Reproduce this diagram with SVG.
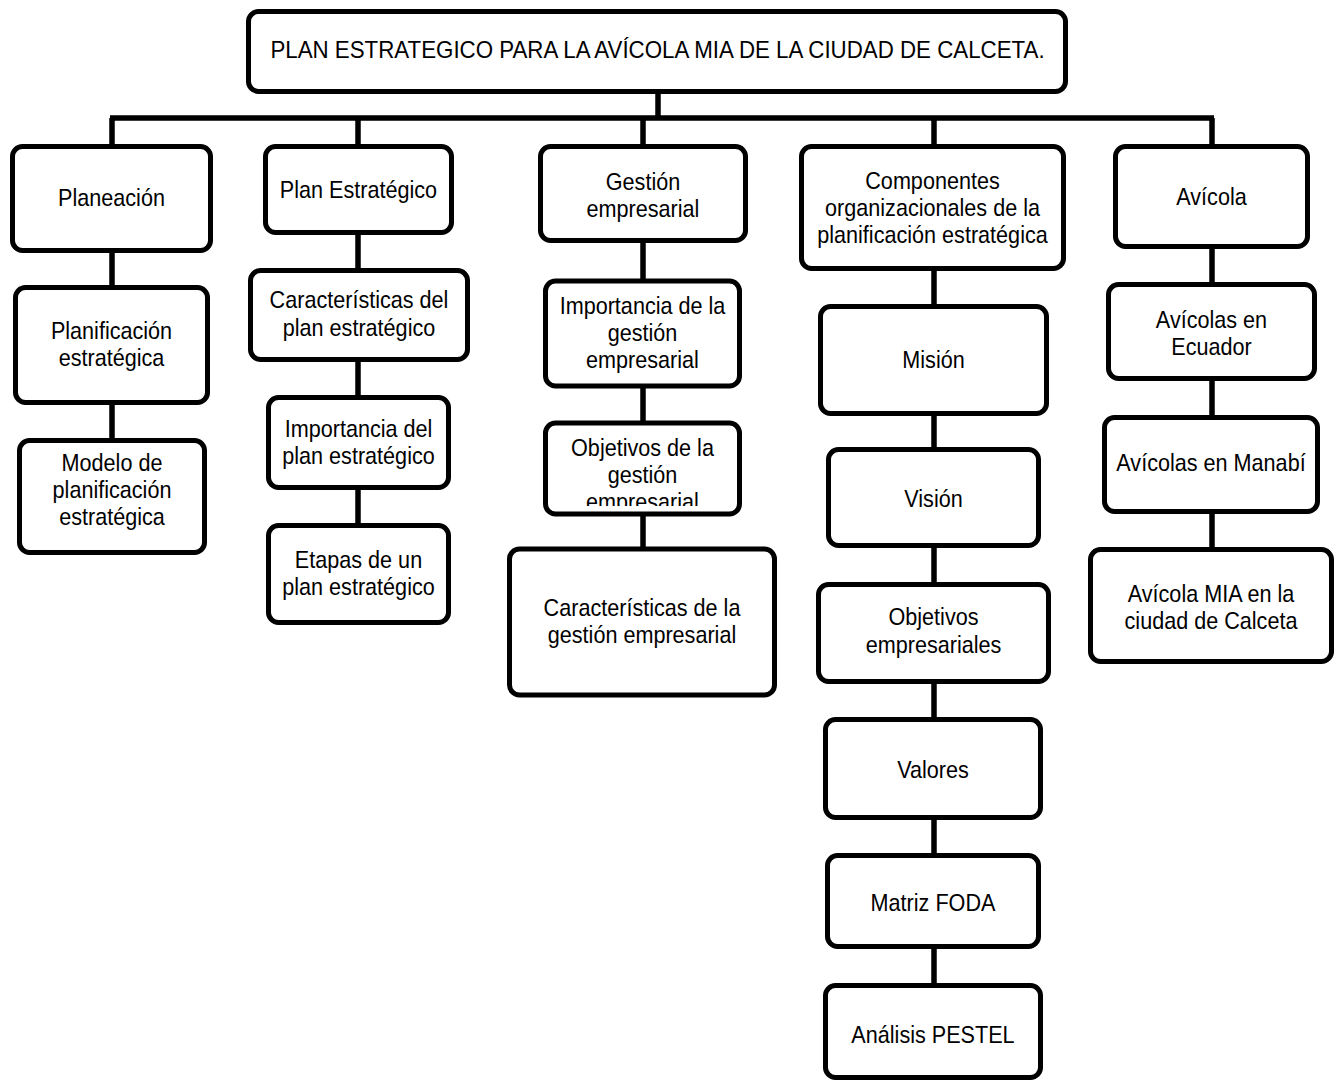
<svg xmlns="http://www.w3.org/2000/svg" width="1337" height="1082" viewBox="0 0 1337 1082">
<defs>
<style>
.box{fill:#fff;stroke:#000;stroke-width:5}
.ln{fill:none;stroke:#000;stroke-width:5.5}
text{font-family:"Liberation Sans",Arial,sans-serif;font-size:24px;fill:#000;text-anchor:middle}
</style>
<clipPath id="clipObj"><rect x="546" y="425" width="194" height="81"/></clipPath>
</defs>
<rect width="1337" height="1082" fill="#fff"/>
<g id="connectors">
<path class="ln" d="M658 91V118M110 118H1214M112 118V147M358 118V147M643 118V147M934 118V147M1212 118V147"/>
<path class="ln" d="M112 250V288M112 402V441"/>
<path class="ln" d="M358 232V271M358 359V398M358 487V526"/>
<path class="ln" d="M643 240V281M643 386V423M643 514V549"/>
<path class="ln" d="M934 268V307M934 413V450M934 545V585M934 681V720M934 817V856M934 946V986"/>
<path class="ln" d="M1212 246V285M1212 378V418M1212 511V550"/>
</g>
<g id="root"><rect class="box" x="248.5" y="11.5" width="817" height="80" rx="10"/><text transform="translate(657.5 0) scale(0.93 1)" x="0" y="58">PLAN ESTRATEGICO PARA LA AVÍCOLA MIA DE LA CIUDAD DE CALCETA.</text></g>

<g id="planeacion"><rect class="box" x="12.5" y="146.5" width="198" height="104" rx="10"/><text transform="translate(111.5 0) scale(0.9 1)" x="0" y="206">Planeación</text></g>
<g id="planificacion"><rect class="box" x="15.5" y="287.5" width="192" height="115" rx="10"/><text transform="translate(111.5 0) scale(0.9 1)"><tspan x="0" y="339">Planificación</tspan><tspan x="0" y="366">estratégica</tspan></text></g>
<g id="modelo"><rect class="box" x="19.5" y="440.5" width="185" height="112" rx="10"/><text transform="translate(112 0) scale(0.9 1)"><tspan x="0" y="471">Modelo de</tspan><tspan x="0" y="498">planificación</tspan><tspan x="0" y="525">estratégica</tspan></text></g>

<g id="plan-estrategico"><rect class="box" x="265.5" y="146.5" width="186" height="86" rx="10"/><text transform="translate(358.5 0) scale(0.9 1)" x="0" y="198">Plan Estratégico</text></g>
<g id="caracteristicas-plan"><rect class="box" x="250.5" y="270.5" width="217" height="89" rx="10"/><text transform="translate(359 0) scale(0.9 1)"><tspan x="0" y="308">Características del</tspan><tspan x="0" y="336">plan estratégico</tspan></text></g>
<g id="importancia-plan"><rect class="box" x="268.5" y="397.5" width="180" height="90" rx="10"/><text transform="translate(358.5 0) scale(0.9 1)"><tspan x="0" y="437">Importancia del</tspan><tspan x="0" y="464">plan estratégico</tspan></text></g>
<g id="etapas-plan"><rect class="box" x="268.5" y="525.5" width="180" height="97" rx="10"/><text transform="translate(358.5 0) scale(0.9 1)"><tspan x="0" y="568">Etapas de un</tspan><tspan x="0" y="595">plan estratégico</tspan></text></g>

<g id="gestion"><rect class="box" x="540.5" y="146.5" width="205" height="94" rx="10"/><text transform="translate(643 0) scale(0.9 1)"><tspan x="0" y="190">Gestión</tspan><tspan x="0" y="217">empresarial</tspan></text></g>
<g id="importancia-gestion"><rect class="box" x="545.5" y="281" width="194" height="105" rx="10"/><text transform="translate(642.5 0) scale(0.9 1)"><tspan x="0" y="314">Importancia de la</tspan><tspan x="0" y="341">gestión</tspan><tspan x="0" y="368">empresarial</tspan></text></g>
<g id="objetivos-gestion"><rect class="box" x="545.5" y="423" width="194" height="91" rx="10"/><g clip-path="url(#clipObj)"><text transform="translate(642.5 0) scale(0.9 1)"><tspan x="0" y="456">Objetivos de la</tspan><tspan x="0" y="483">gestión</tspan><tspan x="0" y="510">empresarial</tspan></text></g></g>
<g id="caracteristicas-gestion"><rect class="box" x="509.5" y="549" width="265" height="146" rx="10"/><text transform="translate(642 0) scale(0.9 1)"><tspan x="0" y="616">Características de la</tspan><tspan x="0" y="643">gestión empresarial</tspan></text></g>

<g id="componentes"><rect class="box" x="801.5" y="146.5" width="262" height="122" rx="10"/><text transform="translate(932.5 0) scale(0.9 1)"><tspan x="0" y="189">Componentes</tspan><tspan x="0" y="216">organizacionales de la</tspan><tspan x="0" y="243">planificación estratégica</tspan></text></g>
<g id="mision"><rect class="box" x="820.5" y="306.5" width="226" height="107" rx="10"/><text transform="translate(933.5 0) scale(0.9 1)" x="0" y="368">Misión</text></g>
<g id="vision"><rect class="box" x="828.5" y="449.5" width="210" height="96" rx="10"/><text transform="translate(933.5 0) scale(0.9 1)" x="0" y="507">Visión</text></g>
<g id="objetivos-empresariales"><rect class="box" x="818.5" y="584.5" width="230" height="97" rx="10"/><text transform="translate(933.5 0) scale(0.9 1)"><tspan x="0" y="625">Objetivos</tspan><tspan x="0" y="653">empresariales</tspan></text></g>
<g id="valores"><rect class="box" x="825.5" y="719.5" width="215" height="98" rx="10"/><text transform="translate(933 0) scale(0.9 1)" x="0" y="778">Valores</text></g>
<g id="foda"><rect class="box" x="827.5" y="855.5" width="211" height="91" rx="10"/><text transform="translate(933 0) scale(0.9 1)" x="0" y="911">Matriz FODA</text></g>
<g id="pestel"><rect class="box" x="825.5" y="985.5" width="215" height="92" rx="10"/><text transform="translate(933 0) scale(0.9 1)" x="0" y="1043">Análisis PESTEL</text></g>

<g id="avicola"><rect class="box" x="1115.5" y="146.5" width="192" height="100" rx="10"/><text transform="translate(1211.5 0) scale(0.9 1)" x="0" y="205">Avícola</text></g>
<g id="avicolas-ecuador"><rect class="box" x="1108.5" y="284.5" width="206" height="94" rx="10"/><text transform="translate(1211.5 0) scale(0.9 1)"><tspan x="0" y="328">Avícolas en</tspan><tspan x="0" y="355">Ecuador</tspan></text></g>
<g id="avicolas-manabi"><rect class="box" x="1104.5" y="417.5" width="213" height="94" rx="10"/><text transform="translate(1211 0) scale(0.9 1)" x="0" y="471">Avícolas en Manabí</text></g>
<g id="avicola-mia"><rect class="box" x="1090.5" y="549.5" width="241" height="112" rx="10"/><text transform="translate(1211 0) scale(0.9 1)"><tspan x="0" y="602">Avícola MIA en la</tspan><tspan x="0" y="629">ciudad de Calceta</tspan></text></g>
</svg>
